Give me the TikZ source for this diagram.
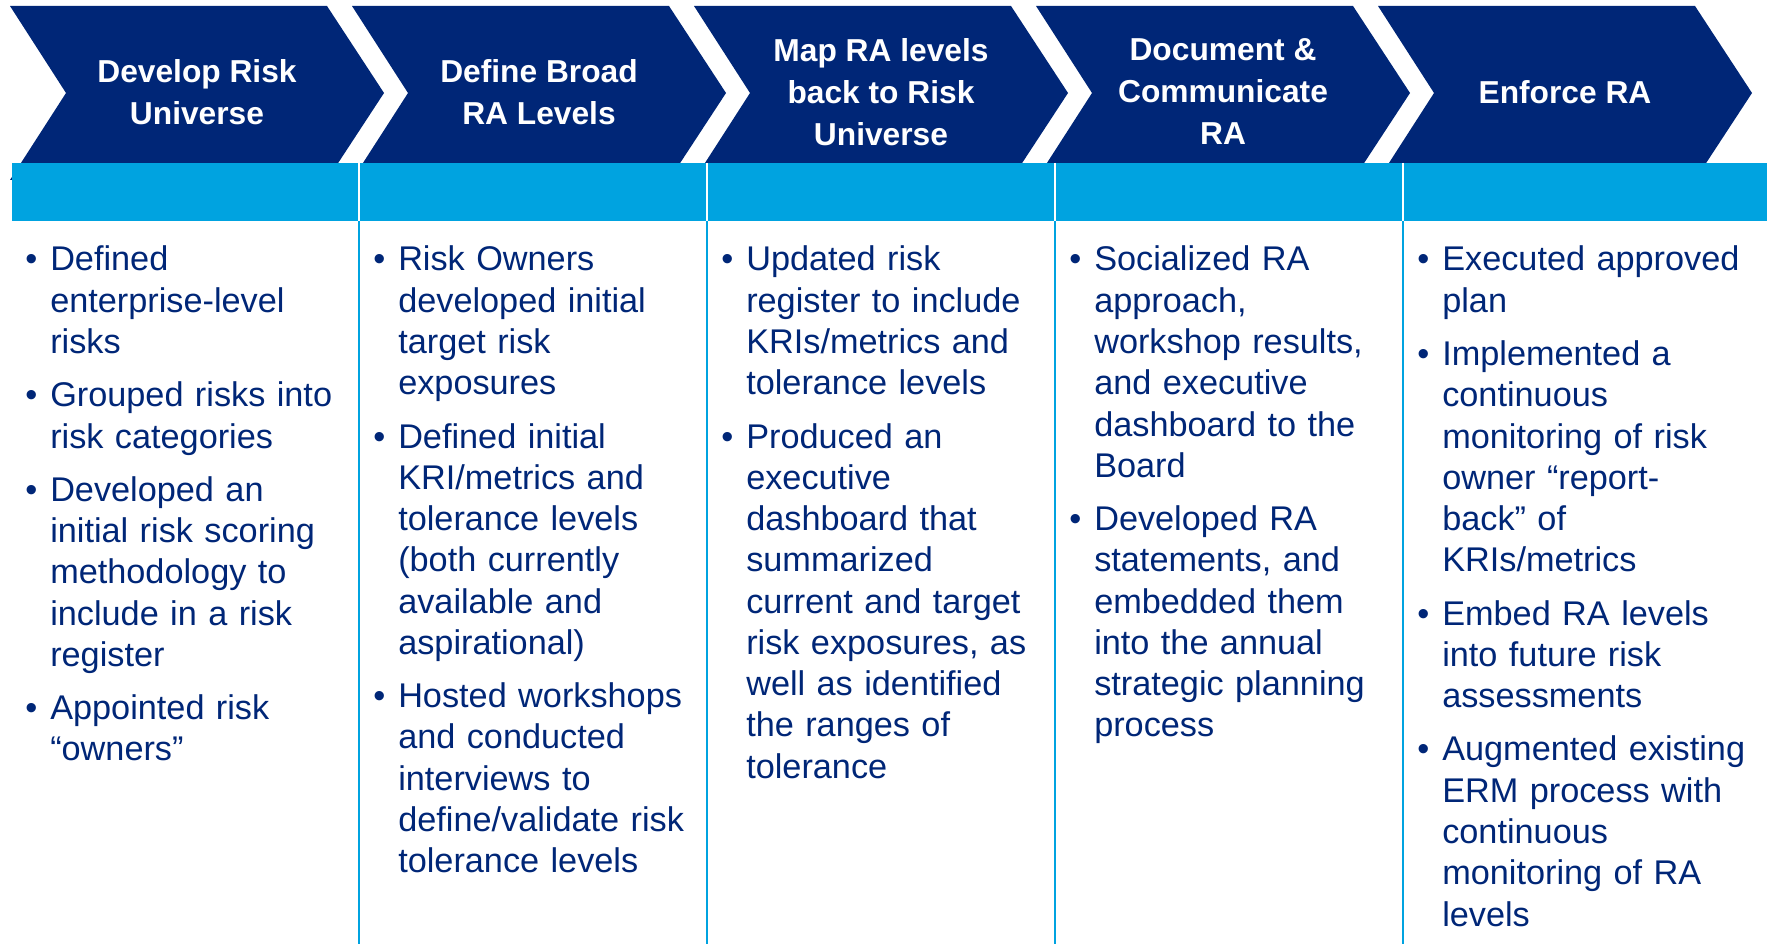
\documentclass[tikz,border=0pt]{standalone}
\usepackage{fontspec}
\setmainfont{Liberation Sans}
\usepackage{xcolor}
\usepackage{tikz}

\definecolor{navy}{HTML}{002677}
\definecolor{sky}{HTML}{00A3E0}
\newcommand{\bul}{\leavevmode\llap{\textbullet\hspace{9.75pt}}}
\newcommand{\gap}{\par\vspace{9pt}}

\begin{document}
\begin{tikzpicture}[x=0.75pt, y=-0.75pt,
    chev/.style={fill=navy},
    sep/.style={line width=1.5pt},
    head/.style={text=white, font=\fontsize{23.8pt}{31.5pt}\selectfont\bfseries, align=center, inner sep=0pt},
    col/.style={text=navy, font=\fontsize{25.7pt}{30.95pt}\selectfont, text width=250pt, align=left, inner sep=0pt, anchor=base west}]
             \useasboundingbox (0,0) rectangle (1772,944);

             \fill[chev] (10,6) -- (327,6) -- (384,93) -- (327,180) -- (10,180) -- (66,93) -- cycle;
             \fill[chev] (352,6) -- (669,6) -- (726,93) -- (669,180) -- (352,180) -- (408,93) -- cycle;
             \fill[chev] (694,6) -- (1011,6) -- (1068,93) -- (1011,180) -- (694,180) -- (750,93) -- cycle;
             \fill[chev] (1036,6) -- (1353,6) -- (1410,93) -- (1353,180) -- (1036,180) -- (1092,93) -- cycle;
             \fill[chev] (1378,6) -- (1695,6) -- (1752,93) -- (1695,180) -- (1378,180) -- (1434,93) -- cycle;

             \node[head] (h1) at (197, 92) {Develop Risk\\Universe};
             \node[head] (h2) at (539, 92) {Define Broad\\RA Levels};
             \node[head] (h3) at (881, 92) {Map RA levels\\back to Risk\\Universe};
             \node[head] (h4) at (1223, 92) {Document \&\\Communicate\\RA};
             \node[head] (h5) at (1565, 92) {Enforce RA};

             \fill[sky] (12,163) rectangle (1767,221);

             \draw[sep, white] (359,163) -- (359,221);
             \draw[sep, white] (707,163) -- (707,221);
             \draw[sep, white] (1055,163) -- (1055,221);
             \draw[sep, white] (1403,163) -- (1403,221);
             \draw[sep, sky] (359,221) -- (359,944);
             \draw[sep, sky] (707,221) -- (707,944);
             \draw[sep, sky] (1055,221) -- (1055,944);
             \draw[sep, sky] (1403,221) -- (1403,944);

             \node[col] (c1) at (50, 271) {\bul Defined\\enterprise-level\\risks\gap
                 \bul Grouped risks into\\risk categories\gap
                 \bul Developed an\\initial risk scoring\\methodology to\\include in a risk\\register\gap
                 \bul Appointed risk\\“owners”};
             \node[col] (c2) at (398, 271) {\bul Risk Owners\\developed initial\\target risk\\exposures\gap
                 \bul Defined initial\\KRI/metrics and\\tolerance levels\\(both currently\\available and\\aspirational)\gap
                 \bul Hosted workshops\\and conducted\\interviews to\\define/validate risk\\tolerance levels};
             \node[col] (c3) at (746, 271) {\bul Updated risk\\register to include\\KRIs/metrics and\\tolerance levels\gap
                 \bul Produced an\\executive\\dashboard that\\summarized\\current and target\\risk exposures, as\\well as identified\\the ranges of\\tolerance};
             \node[col] (c4) at (1094, 271) {\bul Socialized RA\\approach,\\workshop results,\\and executive\\dashboard to the\\Board\gap
                 \bul Developed RA\\statements, and\\embedded them\\into the annual\\strategic planning\\process};
             \node[col] (c5) at (1442, 271) {\bul Executed approved\\plan\gap
                 \bul Implemented a\\continuous\\monitoring of risk\\owner “report-\\back” of\\KRIs/metrics\gap
                 \bul Embed RA levels\\into future risk\\assessments\gap
                 \bul Augmented existing\\ERM process with\\continuous\\monitoring of RA\\levels};
             \end{tikzpicture}
\end{document}
